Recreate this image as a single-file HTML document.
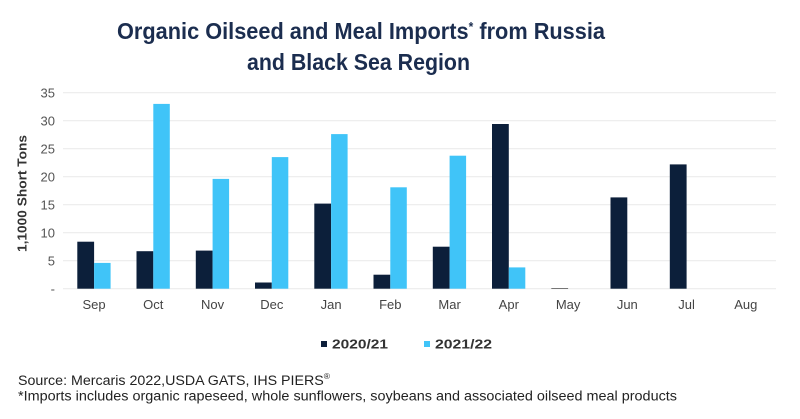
<!DOCTYPE html>
<html><head><meta charset="utf-8"><style>
html,body{margin:0;padding:0;background:#fff;}
svg{display:block;}
</style></head><body>
<svg width="800" height="419" viewBox="0 0 800 419" xmlns="http://www.w3.org/2000/svg" font-family="'Liberation Sans', sans-serif">
<rect width="800" height="419" fill="#fff"/>
<!-- title -->
<text x="117" y="39" font-size="23.5" font-weight="bold" fill="#1b2d4f" textLength="488" lengthAdjust="spacingAndGlyphs">Organic Oilseed and Meal Imports<tspan font-size="13" dy="-8">*</tspan><tspan dy="8"> from Russia</tspan></text>
<text x="247" y="70" font-size="23.5" font-weight="bold" fill="#1b2d4f" textLength="223" lengthAdjust="spacingAndGlyphs">and Black Sea Region</text>
<!-- gridlines -->
<g stroke="#e9e9e9" stroke-width="1">
<line x1="63" x2="776" y1="92.7" y2="92.7"/>
<line x1="63" x2="776" y1="120.7" y2="120.7"/>
<line x1="63" x2="776" y1="148.7" y2="148.7"/>
<line x1="63" x2="776" y1="176.7" y2="176.7"/>
<line x1="63" x2="776" y1="204.7" y2="204.7"/>
<line x1="63" x2="776" y1="232.7" y2="232.7"/>
<line x1="63" x2="776" y1="260.7" y2="260.7"/>
<line x1="63" x2="776" y1="288.7" y2="288.7"/>
</g>
<!-- y tick labels -->
<g font-size="13" fill="#555" text-anchor="end">
<text x="55" y="97.5">35</text>
<text x="55" y="125.5">30</text>
<text x="55" y="153.5">25</text>
<text x="55" y="181.5">20</text>
<text x="55" y="209.5">15</text>
<text x="55" y="237.5">10</text>
<text x="55" y="265.5">5</text>
<text x="55" y="293.5">-</text>
</g>
<!-- y axis title -->
<text transform="translate(26.5,193.5) rotate(-90)" text-anchor="middle" font-size="13" font-weight="bold" fill="#333" textLength="117" lengthAdjust="spacingAndGlyphs">1,1000 Short Tons</text>
<!-- bars -->
<g fill="#0c1f3a">
<rect x="77.3" y="241.7" width="16.8" height="47.0"/>
<rect x="136.5" y="251.2" width="16.8" height="37.5"/>
<rect x="195.8" y="250.6" width="16.8" height="38.1"/>
<rect x="255.0" y="282.5" width="16.8" height="6.2"/>
<rect x="314.3" y="203.6" width="16.8" height="85.1"/>
<rect x="373.5" y="274.7" width="16.8" height="14.0"/>
<rect x="432.8" y="246.7" width="16.8" height="42.0"/>
<rect x="492.0" y="124.0" width="16.8" height="164.7"/>
<rect x="551.3" y="288.0" width="16.8" height="0.7" fill="#444"/>
<rect x="610.5" y="197.4" width="16.8" height="91.3"/>
<rect x="669.8" y="164.4" width="16.8" height="124.3"/>
</g>
<g fill="#40c4f8">
<rect x="94.1" y="262.9" width="16.5" height="25.8"/>
<rect x="153.3" y="103.9" width="16.5" height="184.8"/>
<rect x="212.6" y="178.9" width="16.5" height="109.8"/>
<rect x="271.8" y="157.1" width="16.5" height="131.6"/>
<rect x="331.1" y="134.1" width="16.5" height="154.6"/>
<rect x="390.3" y="187.3" width="16.5" height="101.4"/>
<rect x="449.6" y="155.7" width="16.5" height="133.0"/>
<rect x="508.8" y="267.4" width="16.5" height="21.3"/>
</g>
<!-- x labels -->
<g font-size="13" fill="#444" text-anchor="middle">
<text x="94.1" y="309">Sep</text>
<text x="153.3" y="309">Oct</text>
<text x="212.6" y="309">Nov</text>
<text x="271.8" y="309">Dec</text>
<text x="331.1" y="309">Jan</text>
<text x="390.3" y="309">Feb</text>
<text x="449.6" y="309">Mar</text>
<text x="508.8" y="309">Apr</text>
<text x="568.1" y="309">May</text>
<text x="627.3" y="309">Jun</text>
<text x="686.6" y="309">Jul</text>
<text x="745.8" y="309">Aug</text>
</g>
<!-- legend -->
<rect x="321" y="341" width="6" height="6" fill="#0c1f3a"/>
<text x="332" y="348.5" font-size="13" font-weight="bold" fill="#333" textLength="56" lengthAdjust="spacingAndGlyphs">2020/21</text>
<rect x="424" y="341" width="6" height="6" fill="#40c4f8"/>
<text x="435" y="348.5" font-size="13" font-weight="bold" fill="#333" textLength="57" lengthAdjust="spacingAndGlyphs">2021/22</text>
<!-- footer -->
<text x="18" y="385" font-size="13.5" fill="#222" textLength="312" lengthAdjust="spacingAndGlyphs">Source: Mercaris 2022,USDA GATS, IHS PIERS<tspan font-size="8" dy="-6">®</tspan></text>
<text x="18" y="400.5" font-size="13.5" fill="#222" textLength="659" lengthAdjust="spacingAndGlyphs">*Imports includes organic rapeseed, whole sunflowers, soybeans and associated oilseed meal products</text>
</svg>
</body></html>
